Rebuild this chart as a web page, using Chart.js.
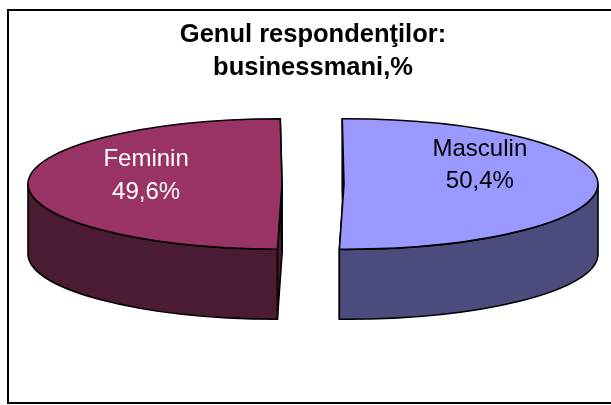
<!DOCTYPE html>
<html>
<head>
<meta charset="utf-8">
<script src="https://cdn.jsdelivr.net/npm/chart.js@4.4.1/dist/chart.umd.min.js"></script>
<style>
  html, body { margin: 0; padding: 0; background: #fff; }
  #wrap { width: 611px; height: 405px; position: relative; }
</style>
</head>
<body>
<div id="wrap"><canvas id="c" width="611" height="405"></canvas></div>
<script>
// ---- data ----
const categories = ['Masculin', 'Feminin'];
const shares = [50.4, 49.6];
const titleLines = ['Genul respondenţilor:', 'businessmani,%'];

// ---- styles ----
const topColors = ['#9999ff', '#993366'];
const sideColors = ['#4b4b7d', '#4b1a33'];
const labelColors = ['#000000', '#ffffff'];
const labelDy = [-19, -8];

function fmt(v) { return v.toFixed(1).replace('.', ',') + '%'; }

function frontRanges(s, e) {
  const out = [];
  for (let k = -1; k <= 1; k++) {
    const lo = Math.max(s, k * 2 * Math.PI);
    const hi = Math.min(e, k * 2 * Math.PI + Math.PI);
    if (hi > lo) out.push([lo, hi]);
  }
  return out;
}

const pie3d = {
  id: 'pie3d',
  beforeDraw(chart) {
    const ctx = chart.ctx;
    ctx.save();
    ctx.fillStyle = '#fff';
    ctx.fillRect(0, 0, chart.width, chart.height);
    ctx.strokeStyle = '#000';
    ctx.lineWidth = 2;
    ctx.strokeRect(8, 10, 700, 393);
    ctx.restore();
  },
  beforeDatasetsDraw(chart, args, opts) {
    const ctx = chart.ctx;
    const meta = chart.getDatasetMeta(0);
    const arcs = meta.data;
    const R = arcs[0].outerRadius;
    const rx = R * opts.stretch, ry = rx * opts.tilt;
    const depth = R * opts.depth, ex = R * opts.explode;
    const items = arcs.map((a, i) => {
      const mid = (a.startAngle + a.endAngle) / 2;
      return { i, s: a.startAngle, e: a.endAngle, mid,
        cx: a.x + Math.cos(mid) * ex, cy: a.y + Math.sin(mid) * ex * opts.tilt };
    });
    const pt = (it, ang) => [it.cx + Math.cos(ang) * rx, it.cy + Math.sin(ang) * ry];
    ctx.save();
    ctx.lineWidth = opts.lineWidth;
    ctx.strokeStyle = '#000';
    ctx.lineJoin = 'round';
    // radial walls
    items.forEach(it => {
      [it.s, it.e].forEach(ang => {
        const p = pt(it, ang);
        ctx.beginPath();
        ctx.moveTo(it.cx, it.cy);
        ctx.lineTo(p[0], p[1]);
        ctx.lineTo(p[0], p[1] + depth);
        ctx.lineTo(it.cx, it.cy + depth);
        ctx.closePath();
        ctx.fillStyle = sideColors[it.i];
        ctx.fill();
        ctx.stroke();
      });
    });
    // outer walls
    items.forEach(it => {
      frontRanges(it.s, it.e).forEach(([lo, hi]) => {
        const ph = pt(it, hi);
        ctx.beginPath();
        ctx.ellipse(it.cx, it.cy, rx, ry, 0, lo, hi, false);
        ctx.lineTo(ph[0], ph[1] + depth);
        ctx.ellipse(it.cx, it.cy + depth, rx, ry, 0, hi, lo, true);
        ctx.closePath();
        ctx.fillStyle = sideColors[it.i];
        ctx.fill();
        ctx.stroke();
      });
    });
    // top faces
    items.forEach(it => {
      ctx.beginPath();
      ctx.moveTo(it.cx, it.cy);
      ctx.ellipse(it.cx, it.cy, rx, ry, 0, it.s, it.e, false);
      ctx.closePath();
      ctx.fillStyle = topColors[it.i];
      ctx.fill();
      ctx.stroke();
    });
    // labels
    ctx.font = opts.labelFont;
    ctx.textAlign = 'center';
    ctx.textBaseline = 'middle';
    const values = chart.data.datasets[0].data;
    items.forEach(it => {
      const lx = it.cx + Math.cos(it.mid) * rx * opts.labelPos;
      const ly = it.cy + Math.sin(it.mid) * ry * opts.labelPos + labelDy[it.i];
      ctx.fillStyle = labelColors[it.i];
      ctx.fillText(chart.data.labels[it.i], lx, ly - opts.labelGap / 2);
      ctx.fillText(fmt(values[it.i]), lx, ly + opts.labelGap / 2);
    });
    ctx.restore();
    return false;
  }
};

new Chart(document.getElementById('c'), {
  type: 'pie',
  data: {
    labels: categories,
    datasets: [{ data: shares, backgroundColor: topColors, borderWidth: 0, offset: 0 }]
  },
  options: {
    responsive: false,
    devicePixelRatio: 1,
    animation: false,
    rotation: -0.4,
    layout: { padding: { left: 15, right: 0, top: 0, bottom: 122 } },
    plugins: {
      legend: { display: false },
      tooltip: { enabled: false },
      title: {
        display: true,
        text: titleLines,
        color: '#000',
        font: { family: "'Liberation Sans', Arial, sans-serif", size: 25.5, weight: 'bold', lineHeight: 1.314 },
        padding: { top: 18, bottom: 0 }
      },
      pie3d: {
        stretch: 2.566, tilt: 0.257, depth: 0.707, explode: 0.313,
        lineWidth: 1.6, labelPos: 0.535, labelGap: 32.5,
        labelFont: "24px 'Liberation Sans', Arial, sans-serif"
      }
    }
  },
  plugins: [pie3d]
});
</script>
</body>
</html>
